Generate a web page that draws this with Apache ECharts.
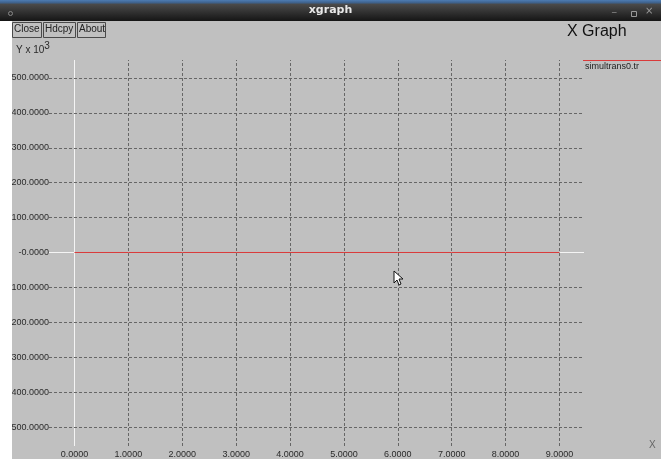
<!DOCTYPE html>
<html><head><meta charset="utf-8">
<script src="https://cdn.jsdelivr.net/npm/echarts@6/dist/echarts.min.js"></script>
<style>html,body{margin:0;padding:0;background:#c0c0c0;overflow:hidden}#chart{width:661px;height:459px}</style>
</head><body><div id="chart"></div>
<script>
// Trace file and its samples (Y in units of 10^3)
const seriesName = 'simultrans0.tr';
const xValues = [0, 1, 2, 3, 4, 5, 6, 7, 8, 9];
const yValues = [0, 0, 0, 0, 0, 0, 0, 0, 0, 0];

// Tick positions and their printed labels
const xTicks = [0, 1, 2, 3, 4, 5, 6, 7, 8, 9];
const xTickLabels = ['0.0000', '1.0000', '2.0000', '3.0000', '4.0000', '5.0000', '6.0000', '7.0000', '8.0000', '9.0000'];
const yTicks = [500, 400, 300, 200, 100, 0, -100, -200, -300, -400, -500];
const yTickLabels = ['500.0000', '400.0000', '300.0000', '200.0000', '100.0000', '-0.0000', '-100.0000', '-200.0000', '-300.0000', '-400.0000', '-500.0000'];

const buttons = ['Close', 'Hdcpy', 'About'];
const windowTitle = 'xgraph';
const graphTitle = 'X Graph';

const FONT = '"Liberation Sans", Arial, sans-serif';
const BG = '#c0c0c0';
const GRID_COLOR = '#666666';

const chart = echarts.init(document.getElementById('chart'), null, { renderer: 'canvas' });

// grid lines: white axes through the origin, dashed elsewhere
const axisStyle = { color: '#f4f4f4', type: 'solid', width: 1 };
const dashStyle = { color: GRID_COLOR, type: [3, 2], width: 1 };
const gridLines = [];
xTicks.forEach(v => gridLines.push({ xAxis: v, lineStyle: v === 0 ? axisStyle : dashStyle }));
yTicks.forEach(v => gridLines.push({ yAxis: v, lineStyle: v === 0 ? axisStyle : dashStyle }));

// buttons along the top-left
const buttonGraphics = [];
let bx = 12;
const bw = [29, 32, 28];
buttons.forEach((b, i) => {
  buttonGraphics.push({
    type: 'rect', left: bx, top: 22, z: 100,
    shape: { width: bw[i], height: 15 },
    style: { fill: BG, stroke: '#4a4a4a', lineWidth: 1 }
  });
  buttonGraphics.push({
    type: 'text', left: bx + 2, top: 24, z: 101,
    style: { text: b, font: '10px ' + FONT, fill: '#222' }
  });
  bx += bw[i] + 2;
});

chart.setOption({
  backgroundColor: BG,
  animation: false,
  grid: { left: 49, right: 77, top: 60, bottom: 12, containLabel: false },
  xAxis: {
    type: 'value', min: -0.473, max: 9.455,
    axisLine: { show: false }, axisTick: { show: false }, splitLine: { show: false },
    axisLabel: {
      customValues: xTicks, margin: 4,
      formatter: v => xTickLabels[xTicks.indexOf(Math.round(v))],
      color: '#2a2a2a', fontFamily: FONT, fontSize: 9
    }
  },
  yAxis: {
    type: 'value', min: -554.3, max: 551.4,
    axisLine: { show: false }, axisTick: { show: false }, splitLine: { show: false },
    axisLabel: {
      customValues: yTicks, margin: 0,
      formatter: v => yTickLabels[yTicks.indexOf(Math.round(v))],
      color: '#2a2a2a', fontFamily: FONT, fontSize: 9
    }
  },
  series: [
    {
      type: 'line', data: [], z: 1, silent: true,
      markLine: { z: 1, symbol: 'none', silent: true, label: { show: false }, emphasis: { disabled: true }, data: gridLines }
    },
    {
      name: seriesName, type: 'line', z: 10,
      data: xValues.map((x, i) => [x, yValues[i]]),
      showSymbol: false, symbol: 'none',
      lineStyle: { color: '#d93a3a', width: 1 }
    }
  ],
  graphic: [
    // window strip on the left edge
    { type: 'rect', left: 0, top: 0, z: 90, shape: { width: 12, height: 459 }, style: { fill: '#ffffff' } },
    // title bar
    { type: 'rect', left: 0, top: 0, z: 95, shape: { width: 661, height: 21 },
      style: { fill: new echarts.graphic.LinearGradient(0, 0, 0, 1, [
        { offset: 0, color: '#4d7cb3' }, { offset: 0.14, color: '#3d5f88' },
        { offset: 0.2, color: '#4a4a4a' }, { offset: 1, color: '#151515' }]) } },
    { type: 'text', left: 'center', top: 5, z: 96,
      style: { text: windowTitle, font: 'bold 11px "DejaVu Sans", sans-serif', fill: '#e8e8e8' } },
    { type: 'circle', left: 6, top: 9, z: 96, shape: { r: 2 }, style: { fill: 'none', stroke: '#888', lineWidth: 1 } },
    { type: 'text', left: 612, top: 4, z: 96, style: { text: '_', font: '9px "DejaVu Sans"', fill: '#999' } },
    { type: 'rect', left: 629, top: 9, z: 96, shape: { width: 5, height: 5 }, style: { fill: 'none', stroke: '#999', lineWidth: 1 } },
    { type: 'text', left: 645, top: 6, z: 96, style: { text: '×', font: '10px "DejaVu Sans"', fill: '#999' } },
    ...buttonGraphics,
    // unit label for Y
    { type: 'text', left: 16, top: 41, z: 100,
      style: { text: '{b|Y x 10}{s|3}', rich: {
        b: { font: '10px ' + FONT, fill: '#2a2a2a', verticalAlign: 'bottom', padding: [4, 0, 0, 0] },
        s: { font: '10px ' + FONT, fill: '#2a2a2a', verticalAlign: 'top', padding: [0, 0, 4, 0] } } } },
    // graph title
    { type: 'text', left: 567, top: 24, z: 100, style: { text: graphTitle, font: '16px "Liberation Sans", sans-serif', fill: '#111' } },
    // legend entry
    { type: 'line', z: 100, shape: { x1: 583, y1: 60.5, x2: 661, y2: 60.5 }, style: { stroke: '#d93a3a', lineWidth: 1 } },
    { type: 'text', left: 585, top: 62, z: 100, style: { text: seriesName, font: '9px ' + FONT, fill: '#222' } },
    // X axis name
    { type: 'text', left: 649, top: 440, z: 100, style: { text: 'X', font: '10px ' + FONT, fill: '#666' } },
    // pointer
    { type: 'polygon', z: 120, shape: { points: [[394, 271], [394, 283], [397, 280], [399, 285], [401, 284], [399, 279], [403, 279]] },
      style: { fill: '#fff', stroke: '#111', lineWidth: 1 } }
  ]
});
</script>
</body></html>
